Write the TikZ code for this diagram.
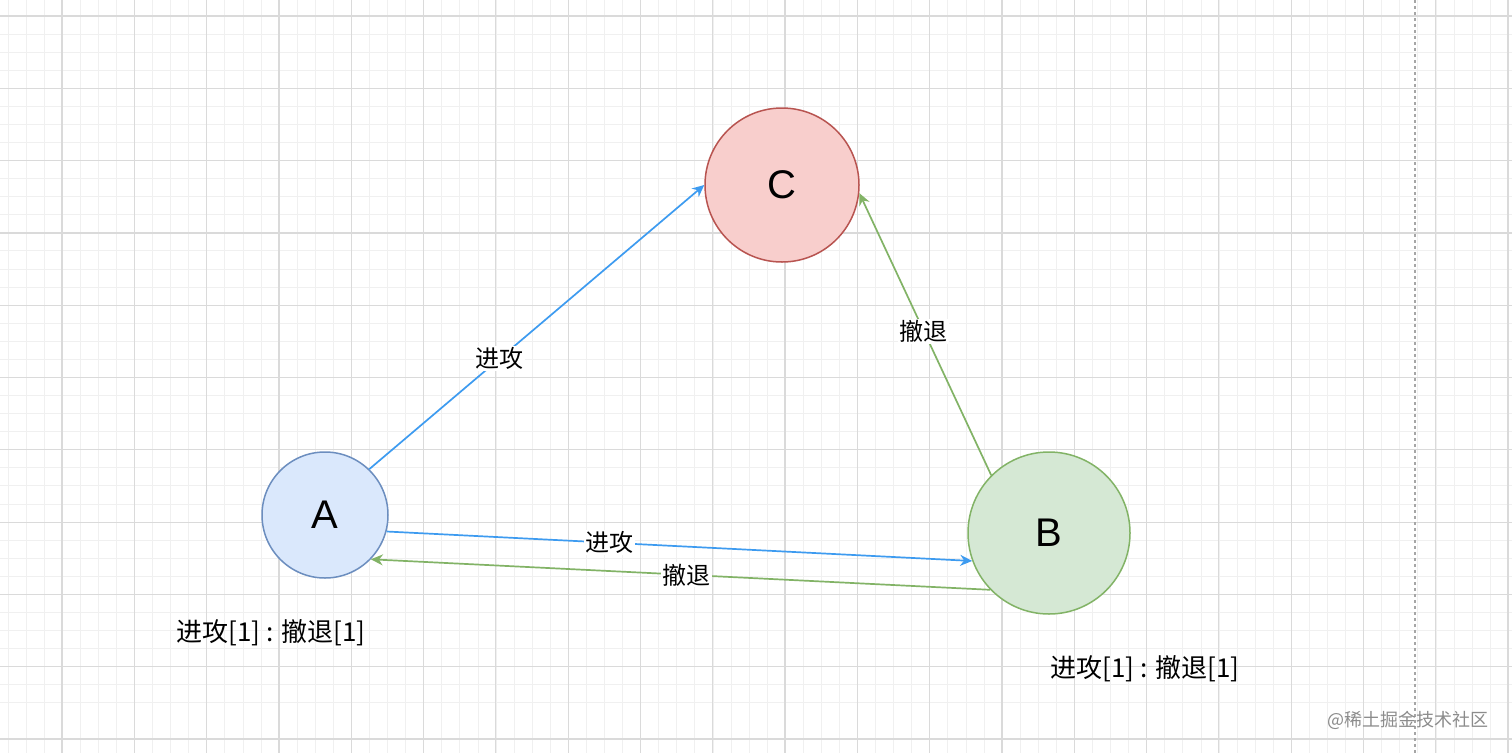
\documentclass[tikz,border=0pt]{standalone}
\usepackage{fontspec}
\setmainfont{Liberation Sans}
\newfontfamily\cjk{Noto Sans CJK SC}
\usetikzlibrary{arrows.meta}
\definecolor{gminor}{HTML}{F0F0F0}
\definecolor{gmajor}{HTML}{DADADA}
\definecolor{afill}{HTML}{DAE8FC}\definecolor{aline}{HTML}{6C8EBF}
\definecolor{cfill}{HTML}{F8CECC}\definecolor{cline}{HTML}{B85450}
\definecolor{bfill}{HTML}{D5E8D4}\definecolor{bline}{HTML}{82B366}
\definecolor{blueedge}{HTML}{3D9BF0}
\tikzset{
 state/.style={circle,draw,line width=1.5pt,font=\fontsize{40}{40}\selectfont,inner sep=0pt},
 lbl/.style={fill=white,inner sep=1.5pt,font=\cjk\fontsize{24}{24}\selectfont},
 note/.style={font=\cjk\fontsize{26}{26}\selectfont},
 att/.style={draw=blueedge,line width=1.7pt,-{Stealth[length=12pt,width=11pt]}},
 ret/.style={draw=bline,line width=1.7pt,-{Stealth[length=12pt,width=11pt]}}
}
\begin{document}
\begin{tikzpicture}[x=1pt,y=-1pt]
\useasboundingbox (0,0) rectangle (1512,753);
\fill[white] (0,0) rectangle (1512,753);
\foreach \i in {0,...,84} {\draw[gminor,line width=1pt] ({-10+18.075*\i},0) -- ({-10+18.075*\i},753);}
\foreach \i in {0,...,42} {\draw[gminor,line width=1pt] (0,{-56.3+18.075*\i}) -- (1512,{-56.3+18.075*\i});}
\foreach \i in {0,...,21} {\draw[gmajor,line width=1.2pt] ({-10.3+72.3*\i},0) -- ({-10.3+72.3*\i},753);}
\foreach \i in {0,...,10} {\draw[gmajor,line width=1.2pt] (0,{16+72.3*\i}) -- (1512,{16+72.3*\i});}
\draw[gray!70,dashed,line width=1.2pt] (1415,0) -- (1415,753);
\node[state,fill=cfill,draw=cline,minimum size=154pt] (C) at (782,185) {C};
\node[state,fill=afill,draw=aline,minimum size=126pt] (A) at (325,515) {A};
\node[state,fill=bfill,draw=bline,minimum size=162pt] (B) at (1049,533) {B};
\draw[att] (A.46) -- node[lbl,pos=0.39]{进攻} (C.180);
\draw[att] (A.-15) -- node[lbl,pos=0.38]{进攻} (B.200);
\draw[ret] (B.224) -- node[lbl,pos=0.49]{撤退} (A.-44);
\draw[ret] (B.135) -- node[lbl,pos=0.51]{撤退} (C.-6);
\node[note] (na) at (271,633) {进攻[1] : 撤退[1]};
\node[note] (nb) at (1145,669) {进攻[1] : 撤退[1]};
\node[font=\cjk\fontsize{18}{18}\selectfont,text=gray!90] (wm) at (1408,720) {@稀土掘金技术社区};
\end{tikzpicture}
\end{document}
